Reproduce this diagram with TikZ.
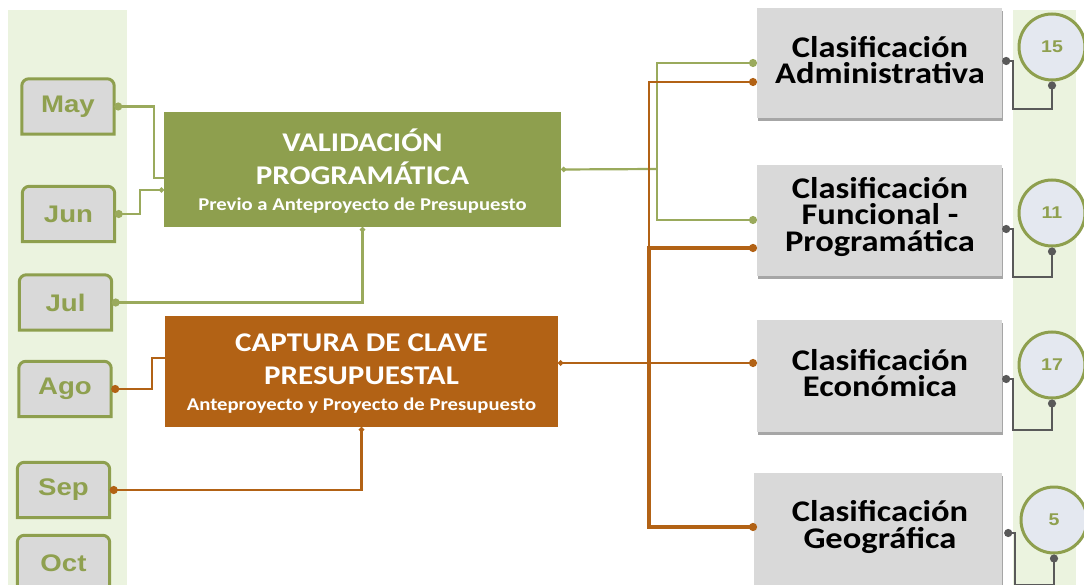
\documentclass[tikz,border=0pt]{standalone}
\usepackage{fontspec}
\setmainfont{Carlito}[FakeStretch=1.15]
\newfontfamily\arialf{Liberation Sans}[FakeStretch=1.15]
\usetikzlibrary{arrows.meta,shadows,calc}
\definecolor{olv}{HTML}{8E9F4E}
\definecolor{olvl}{HTML}{9AAA5C}
\definecolor{org}{HTML}{B26215}
\definecolor{panel}{HTML}{EBF3DF}
\definecolor{boxg}{HTML}{D9D9D9}
\definecolor{circf}{HTML}{E4E8F0}
\definecolor{dk}{HTML}{595959}
\definecolor{mtext}{HTML}{8FA04F}
\tikzset{
  monthbox/.style={minimum width=92pt, minimum height=55pt, inner sep=0pt,
    font=\arialf\bfseries\fontsize{24}{26}\selectfont, text=mtext},
  mainbox/.style={inner sep=0pt, align=center, text=white,
    font=\bfseries\fontsize{27}{33}\selectfont},
  clbox/.style={fill=boxg, minimum width=245pt, minimum height=111pt, inner sep=0pt,
    drop shadow={shadow xshift=1pt, shadow yshift=-3pt, opacity=0.35, fill=black}},
  cltext/.style={align=center, inner sep=0pt, font=\bfseries\fontsize{30}{26.5}\selectfont},
  numcirc/.style={circle, draw=olv, line width=3pt, fill=circf, minimum size=66pt,
    inner sep=0pt, font=\arialf\bfseries\fontsize{17}{18}\selectfont, text=mtext},
  gline/.style={draw=olvl, line width=2.2pt},
  oline/.style={draw=org, line width=2.5pt},
  kline/.style={draw=dk, line width=2.5pt},
  dotg/.style={gline, {Circle[length=8pt]}-},
  dotge/.style={gline, -{Circle[length=8pt]}},
}
\newcommand{\tabshape}[1]{%
  \draw[olv, line width=3pt, fill=boxg] (#1.south west) -- ($(#1.south west)+(0,-12)$)
    [rounded corners=7pt] -- (#1.north west) -- (#1.north east) -- ($(#1.south east)+(0,-12)$)
    [sharp corners] -- (#1.south east) -- cycle;}
\begin{document}
\begin{tikzpicture}[x=1pt, y=-1pt]
\useasboundingbox (0,0) rectangle (1084,585);
\fill[white] (0,0) rectangle (1084,585);
\begin{scope}
\clip (0,0) rectangle (1084,585);
% side panels
\fill[panel] (8,10) rectangle (127,590);
\fill[panel] (1013,10) rectangle (1076,590);

% month boxes
\node[monthbox] (may) at (68,106.5) {};
\node[monthbox] (jun) at (68.5,214) {};
\node[monthbox] (jul) at (65.5,302.5) {};
\node[monthbox] (ago) at (65,389) {};
\node[monthbox] (sep) at (63.5,490) {};
\node[monthbox] (oct) at (63.5,563) {};
\foreach \m in {may,jun,jul,ago,sep,oct}{\tabshape{\m}}
\node[monthbox] (mayt) at (may) {May};
\node[monthbox] (junt) at (jun) {Jun};
\node[monthbox] (jult) at (jul) {Jul};
\node[monthbox] (agot) at (ago) {Ago};
\node[monthbox] (sept) at (sep) {Sep};
\node[monthbox] (octt) at (oct) {Oct};

% main boxes
\node[fill=olv, minimum width=397pt, minimum height=115pt, inner sep=0pt] (val) at (362.5,169.5) {};
\node[mainbox] (valt) at (362.5,171.5)
  {VALIDACIÓN\\ PROGRAMÁTICA\\[-7pt]
   {\fontsize{18}{20}\selectfont Previo a Anteproyecto de Presupuesto}};
\node[fill=org, minimum width=393pt, minimum height=111pt, inner sep=0pt] (cap) at (361.5,371.5) {};
\node[mainbox] (capt) at (361.5,373.5)
  {CAPTURA DE CLAVE\\ PRESUPUESTAL\\[-7pt]
   {\fontsize{18}{20}\selectfont Anteproyecto y Proyecto de Presupuesto}};

% classification boxes
\node[clbox, minimum height=110pt] (clA) at (879.5,63) {};
\node[clbox] (clF) at (879.5,220.5) {};
\node[clbox, minimum height=112pt] (clE) at (879.5,376) {};
\node[clbox, minimum width=248pt, minimum height=116pt] (clG) at (878,531) {};
\node[cltext] (clAt) at (880,60) {Clasificación\\Administrativa};
\node[cltext] (clFt) at (880,216.5) {Clasificación\\Funcional -\\Programática};
\node[cltext] (clEt) at (880,373) {Clasificación\\Económica};
\node[cltext] (clGt) at (880,527) {Clasificación\\Geográfica};

% number circles
\node[numcirc] (c15) at (1052,47) {15};
\node[numcirc] (c11) at (1052,213) {11};
\node[numcirc] (c17) at (1052,365) {17};
\node[numcirc] (c5) at (1054,520) {5};

% ports on classification boxes
\coordinate (clAg) at (757,63);
\coordinate (clAo) at (757,82);
\coordinate (clFg) at (757,220);
\coordinate (clFo) at (757,248);
\coordinate (clEo) at (757,363);
\coordinate (clGo) at (757,527);
\coordinate (gj) at (657,169);
\coordinate (oj) at (649,363);

% month -> main connectors
\draw[dotg] (may.east) -| (154,178) -- (164,178);
\draw[gline, {Circle[length=8pt]}-{Circle[length=5pt]}] (jun.east) -| (140,190) -- (164,190);
\draw[gline, {Circle[length=8pt]}-{Circle[length=5pt]}] (jul.east) -| (val.south);
\draw[oline, {Circle[length=8pt]}-] (ago.east) -| (152,358) -- (165,358);
\draw[oline, {Circle[length=8pt]}-{Circle[length=5pt]}] (sep.east) -| (cap.south);

% validation -> classifications
\draw[gline, {Circle[length=5pt]}-] (val.east) -- (gj);
\draw[dotge] (gj) |- (clAg);
\draw[dotge] (gj) |- (clFg);

% captura -> classifications
\draw[oline, {Circle[length=5pt]}-{Circle[length=8pt]}] (cap.east |- clEo) -- (clEo);
\draw[oline, -{Circle[length=8pt]}] (oj) |- (clAo);
\draw[draw=org, line width=3.2pt, -{Circle[length=8pt]}] (oj) |- (clFo);
\draw[draw=org, line width=3.2pt, -{Circle[length=8pt]}] (oj) |- (clGo);

% classification -> circles
\draw[kline, {Circle[length=8pt]}-{Circle[length=8pt]}] ([yshift=2pt]clA.east) -| ++(11,48) -| (c15.south);
\draw[kline, {Circle[length=8pt]}-{Circle[length=8pt]}] ([yshift=-8.5pt]clF.east) -| ++(11,48) -| (c11.south);
\draw[kline, {Circle[length=8pt]}-{Circle[length=8pt]}] ([yshift=-3pt]clE.east) -| ++(11,51) -| (c17.south);
\draw[kline, {Circle[length=8pt]}-{Circle[length=8pt]}] ([xshift=2pt,yshift=-2pt]clG.east) -| ++(11,52) -| (c5.south);
\end{scope}
\end{tikzpicture}
\end{document}
